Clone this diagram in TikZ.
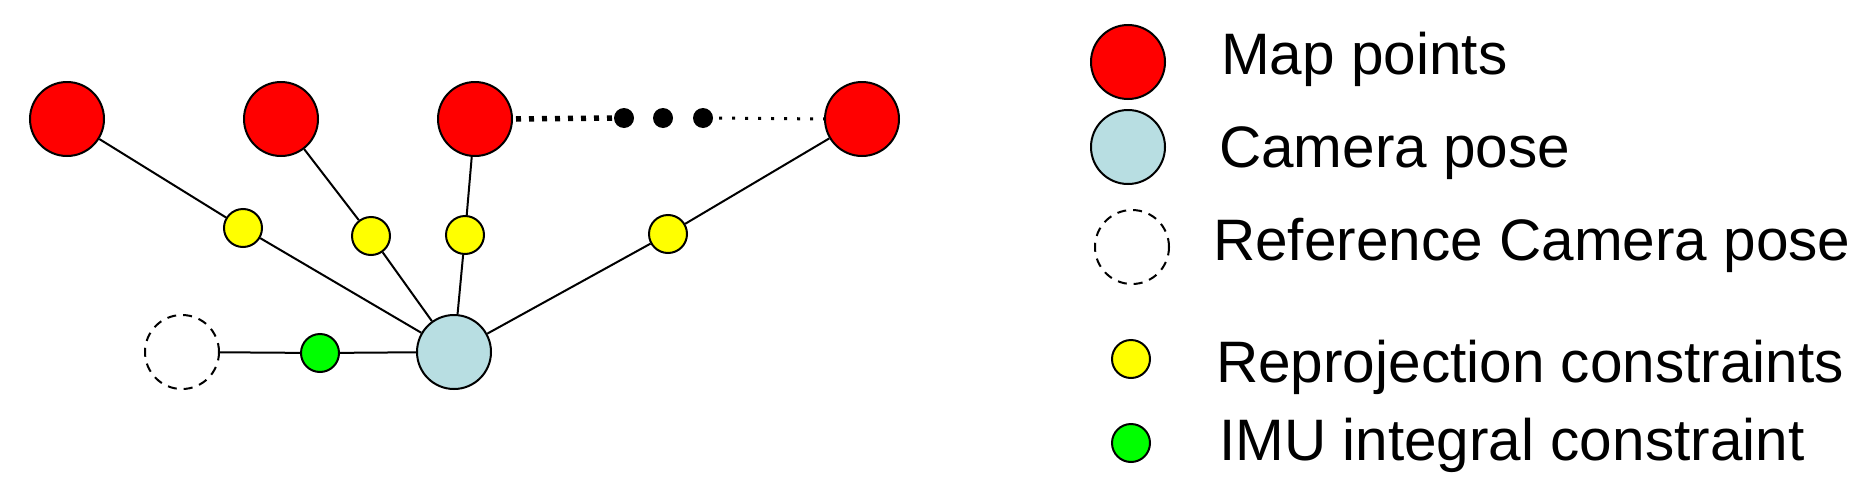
\documentclass[tikz,border=0pt]{standalone}
\usepackage{fontspec}
\setmainfont{Liberation Sans}
\definecolor{mapred}{RGB}{255,0,0}
\definecolor{camblue}{RGB}{184,222,226}
\definecolor{reproj}{RGB}{255,255,0}
\definecolor{imugreen}{RGB}{0,255,0}
\begin{document}
\begin{tikzpicture}[x=1pt,y=-1pt,
  big/.style={circle,draw=black,line width=2pt,minimum size=74pt,inner sep=0pt},
  small/.style={circle,draw=black,line width=2pt,minimum size=38pt,inner sep=0pt},
  mappt/.style={big,fill=mapred},
  campose/.style={big,fill=camblue},
  refpose/.style={big,dashed,dash pattern=on 9pt off 7pt,fill=white},
  reprojc/.style={small,fill=reproj},
  imuc/.style={small,fill=imugreen},
  edge/.style={line width=2pt},
  ellip/.style={circle,fill=black,minimum size=20pt,inner sep=0pt},
  lbl/.style={anchor=base west,inner sep=0pt,font=\fontsize{58.5}{62}\selectfont}]
\useasboundingbox (0,0) rectangle (1856,490);
% main graph
\node[mappt] (m1) at (67,119) {};
\node[mappt] (m2) at (281,119) {};
\node[mappt] (m3) at (475,119) {};
\node[mappt] (m4) at (862,119) {};
\node[campose] (c) at (454,352) {};
\node[refpose] (r) at (182,352) {};
\node[imuc] (g) at (320,353) {};
\node[reprojc] (y1) at (243,228) {};
\node[reprojc] (y2) at (371,236) {};
\node[reprojc] (y3) at (465,235) {};
\node[reprojc] (y4) at (668,234) {};
\draw[edge] (m1) -- (y1); \draw[edge] (y1) -- (c);
\draw[edge] (m2) -- (y2); \draw[edge] (y2) -- (c);
\draw[edge] (m3) -- (y3); \draw[edge] (y3) -- (c);
\draw[edge] (m4) -- (y4); \draw[edge] (y4) -- (c);
\draw[edge] (r) -- (g); \draw[edge] (g) -- (c);
% ellipsis
\node[ellip] (d1) at (624,118) {};
\node[ellip] (d2) at (663,118) {};
\node[ellip] (d3) at (703,118) {};
\draw[line width=5.5pt,dash pattern=on 5pt off 8pt] (m3.east) ++(3,0) coordinate (a0) (a0) -- (d1.west);
\draw[line width=3pt,dash pattern=on 3pt off 10pt] (d3.east) ++(6,0) coordinate (b0) (b0) -- (m4.west);
% legend
\node[mappt] (lm) at (1128,62) {};
\node[campose] (lc) at (1128,147) {};
\node[refpose] (lr) at (1132,247) {};
\node[reprojc] (ly) at (1131,359) {};
\node[imuc] (lg) at (1131,443) {};
\node[lbl] (tm) at (1221,74) {Map points};
\node[lbl] (tc) at (1219,167) {Camera pose};
\node[lbl] (tr) at (1213,260) {Reference Camera pose};
\node[lbl] (ty) at (1216,382) {Reprojection constraints};
\node[lbl] (tg) at (1219,460) {IMU integral constraint};
\end{tikzpicture}
\end{document}
